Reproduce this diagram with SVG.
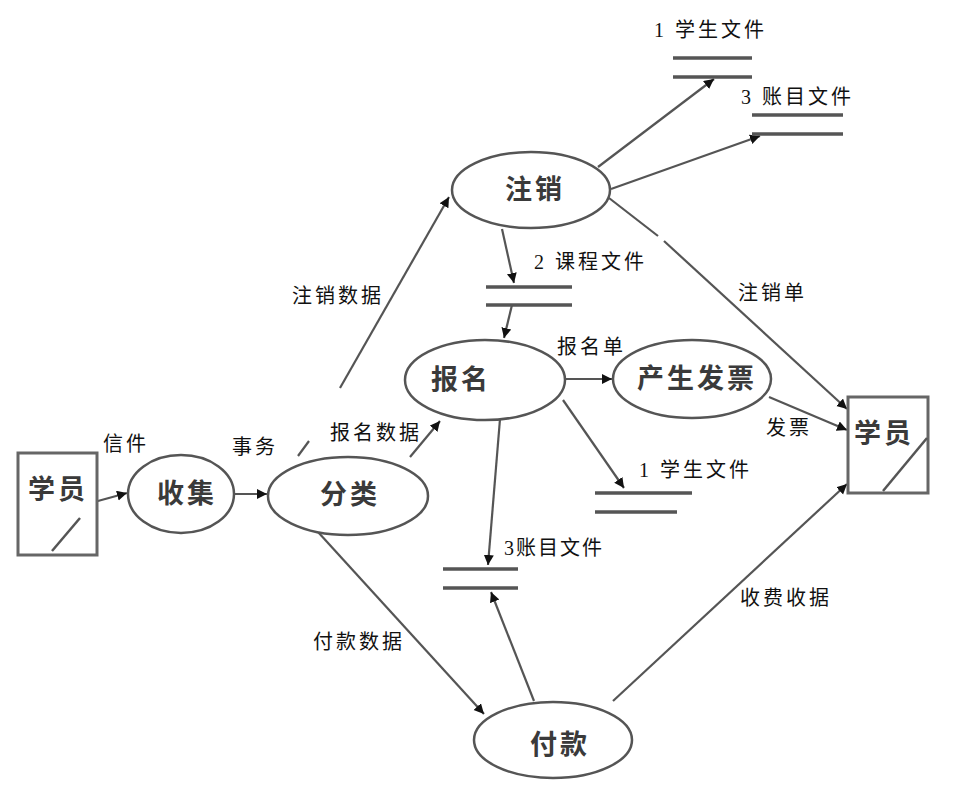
<svg xmlns="http://www.w3.org/2000/svg" width="965" height="802" viewBox="0 0 965 802">
<style>
.proc{fill:#fff;stroke:#555;stroke-width:2.5}
.ent{fill:#fff;stroke:#666;stroke-width:3}
.slash{stroke:#555;stroke-width:2.5}
.store{stroke:#555;stroke-width:3.5}
.ln{stroke:#555;stroke-width:2.2;fill:none}
.arr{marker-end:url(#ah)}
.nt{font-family:"Noto Sans CJK SC",sans-serif;font-size:27px;font-weight:bold;fill:#3a3a3a;text-anchor:middle;letter-spacing:3px}
.lb{font-family:"Liberation Serif","Noto Sans CJK SC",serif;font-size:20px;fill:#111;letter-spacing:3px}
</style>
<defs>
<marker id="ah" markerUnits="userSpaceOnUse" markerWidth="12" markerHeight="12" refX="10" refY="5" orient="auto">
<path d="M0,0 L10,5 L0,10 z" fill="#111"/>
</marker>
</defs>
<rect width="965" height="802" fill="#fff"/>
<g id="connectors">
<line class="ln arr" x1="87" y1="504" x2="127" y2="493"/>
<line class="ln arr" x1="233" y1="494" x2="267" y2="494"/>
<line class="ln arr" x1="340" y1="388" x2="449" y2="197"/>
<line class="ln" x1="298" y1="456" x2="309" y2="441"/>
<line class="ln arr" x1="410" y1="457" x2="440" y2="421"/>
<line class="ln arr" x1="598" y1="167" x2="714" y2="79"/>
<line class="ln arr" x1="611" y1="189" x2="760" y2="136"/>
<line class="ln arr" x1="502" y1="229" x2="514" y2="283"/>
<line class="ln arr" x1="512" y1="305" x2="504" y2="338"/>
<line class="ln arr" x1="565" y1="379" x2="612" y2="379"/>
<line class="ln arr" x1="563" y1="400" x2="624" y2="488"/>
<line class="ln arr" x1="500" y1="419" x2="488" y2="565"/>
<line class="ln arr" x1="534" y1="701" x2="491" y2="592"/>
<line class="ln arr" x1="318" y1="532" x2="484" y2="714"/>
<line class="ln arr" x1="613" y1="701" x2="847" y2="484"/>
<line class="ln" x1="609" y1="198" x2="658" y2="236"/>
<line class="ln arr" x1="664" y1="241" x2="847" y2="409"/>
<line class="ln arr" x1="769" y1="397" x2="847" y2="430"/>
</g>
<g id="store-1a">
<line class="store" x1="673" y1="58" x2="752" y2="58"/>
<line class="store" x1="673" y1="77" x2="752" y2="77"/>
<text class="lb" x="654" y="37">1 学生文件</text>
</g>
<g id="store-3a">
<line class="store" x1="752" y1="115" x2="843" y2="115"/>
<line class="store" x1="752" y1="134" x2="843" y2="134"/>
<text class="lb" x="741" y="104">3 账目文件</text>
</g>
<g id="store-2">
<line class="store" x1="486" y1="287" x2="572" y2="287"/>
<line class="store" x1="486" y1="305" x2="572" y2="305"/>
<text class="lb" x="534" y="269">2 课程文件</text>
</g>
<g id="store-1b">
<line class="store" x1="595" y1="493" x2="692" y2="493"/>
<line class="store" x1="595" y1="512" x2="677" y2="512"/>
<text class="lb" x="639" y="477">1 学生文件</text>
</g>
<g id="store-3b">
<line class="store" x1="443" y1="569" x2="518" y2="569"/>
<line class="store" x1="443" y1="588" x2="518" y2="588"/>
<text class="lb" x="504" y="555" style="letter-spacing:2px">3账目文件</text>
</g>
<g id="entity-left">
<rect class="ent" x="18" y="453" width="79" height="102"/>
<line class="slash" x1="52" y1="551" x2="80" y2="518"/>
<text class="nt" x="58" y="499">学员</text>
</g>
<g id="entity-right">
<rect class="ent" x="848" y="397" width="80" height="96"/>
<line class="slash" x1="883" y1="491" x2="927" y2="438"/>
<text class="nt" x="884" y="443">学员</text>
</g>
<g id="p-collect">
<ellipse class="proc" cx="181" cy="494" rx="53" ry="39"/>
<text class="nt" x="187" y="503">收集</text>
</g>
<g id="p-classify">
<ellipse class="proc" cx="348" cy="496" rx="80" ry="39"/>
<text class="nt" x="350" y="504">分类</text>
</g>
<g id="p-cancel">
<ellipse class="proc" cx="531" cy="190" rx="79" ry="38"/>
<text class="nt" x="535" y="199">注销</text>
</g>
<g id="p-enroll">
<ellipse class="proc" cx="485" cy="380" rx="80" ry="40"/>
<text class="nt" x="461" y="389">报名</text>
</g>
<g id="p-invoice">
<ellipse class="proc" cx="692" cy="379" rx="79" ry="39"/>
<text class="nt" x="697" y="388">产生发票</text>
</g>
<g id="p-pay">
<ellipse class="proc" cx="553" cy="740" rx="79" ry="38"/>
<text class="nt" x="560" y="754">付款</text>
</g>
<g id="labels">
<text class="lb" x="103" y="451">信件</text>
<text class="lb" x="232" y="454">事务</text>
<text class="lb" x="292" y="303">注销数据</text>
<text class="lb" x="330" y="440">报名数据</text>
<text class="lb" x="557" y="354">报名单</text>
<text class="lb" x="738" y="300">注销单</text>
<text class="lb" x="766" y="435">发票</text>
<text class="lb" x="313" y="649">付款数据</text>
<text class="lb" x="740" y="605">收费收据</text>
</g>
</svg>
